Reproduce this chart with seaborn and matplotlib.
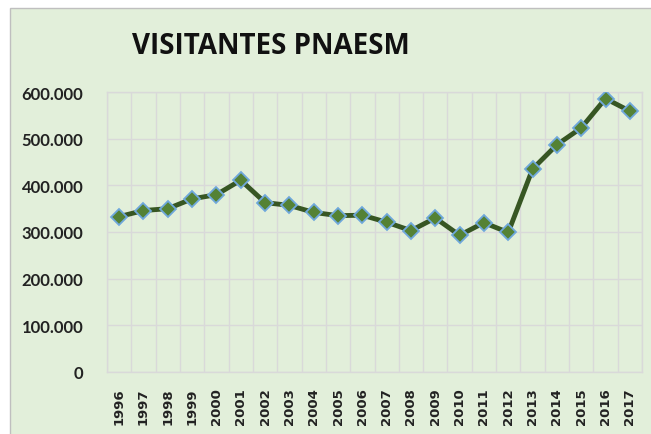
import matplotlib
matplotlib.use("Agg")
import matplotlib.pyplot as plt
from matplotlib.patches import Rectangle
from matplotlib.ticker import FuncFormatter, FixedLocator
import seaborn as sns
import pandas as pd

years = [str(y) for y in range(1996, 2018)]
visitors = [333000, 346000, 350000, 371000, 380000, 411000, 363000, 357000,
            342000, 335000, 336000, 321000, 303000, 330000, 293000, 320000,
            299000, 435000, 487000, 523000, 586000, 559000]
title = "VISITANTES PNAESM"
yticks = [0, 100000, 200000, 300000, 400000, 500000, 600000]

bg = "#E2EFDA"
grid = "#D9D9D9"

sns.set_theme(style="white")
plt.rcParams["font.family"] = ["DejaVu Sans"]

fig = plt.figure(figsize=(6.51, 4.35), dpi=100, facecolor="white")
bgrect = Rectangle((10 / 651, -0.01), 1.01 - 10 / 651, 1.01 - 9 / 435,
                   transform=fig.transFigure, facecolor=bg,
                   edgecolor="#BFBFBF", linewidth=1, zorder=-10)
fig.add_artist(bgrect)

ax = fig.add_axes([107 / 651, 1 - 373 / 435, (642 - 107) / 651, (373 - 93) / 435])
ax.set_zorder(5)
ax.set_facecolor(bg)

df = pd.DataFrame({"x": list(range(len(years))), "v": visitors})
sns.lineplot(data=df, x="x", y="v", ax=ax, color="#375623", linewidth=3.5,
             marker="D", markersize=8.5, markerfacecolor="#548235",
             markeredgecolor="#6FA8DC", markeredgewidth=1.3, zorder=3)

ax.set_xlim(-0.5, len(years) - 0.5)
ax.set_ylim(0, 600000)
ax.set_xticks(range(len(years)))
ax.set_xticklabels(years, rotation=90, fontweight="bold", fontsize=9.5, color="#222222")
ax.xaxis.set_minor_locator(FixedLocator([i + 0.5 for i in range(-1, len(years))]))
ax.set_yticks(yticks)
ax.yaxis.set_major_formatter(FuncFormatter(lambda v, p: "0" if v == 0 else f"{int(v):,}".replace(",", ".")))
for t in ax.get_yticklabels():
    t.set_fontweight("bold")
    t.set_fontsize(12)
    t.set_family("Lato")
    t.set_color("#222222")
ax.grid(axis="y", which="major", color=grid, linewidth=1)
ax.grid(axis="x", which="minor", color=grid, linewidth=1)
ax.grid(axis="x", which="major", visible=False)
ax.tick_params(axis="both", which="both", length=0)
ax.tick_params(axis="y", pad=17)
ax.tick_params(axis="x", pad=11)
for s in ax.spines.values():
    s.set_color(grid)
    s.set_linewidth(1)
ax.set_xlabel("")
ax.set_ylabel("")

fig.text(271 / 651, 1 - 46 / 435, title, ha="center", va="center",
         fontsize=20, fontweight="bold", color="#111111", family="Open Sans")

fig.savefig("out.png", dpi=100, facecolor="white")
